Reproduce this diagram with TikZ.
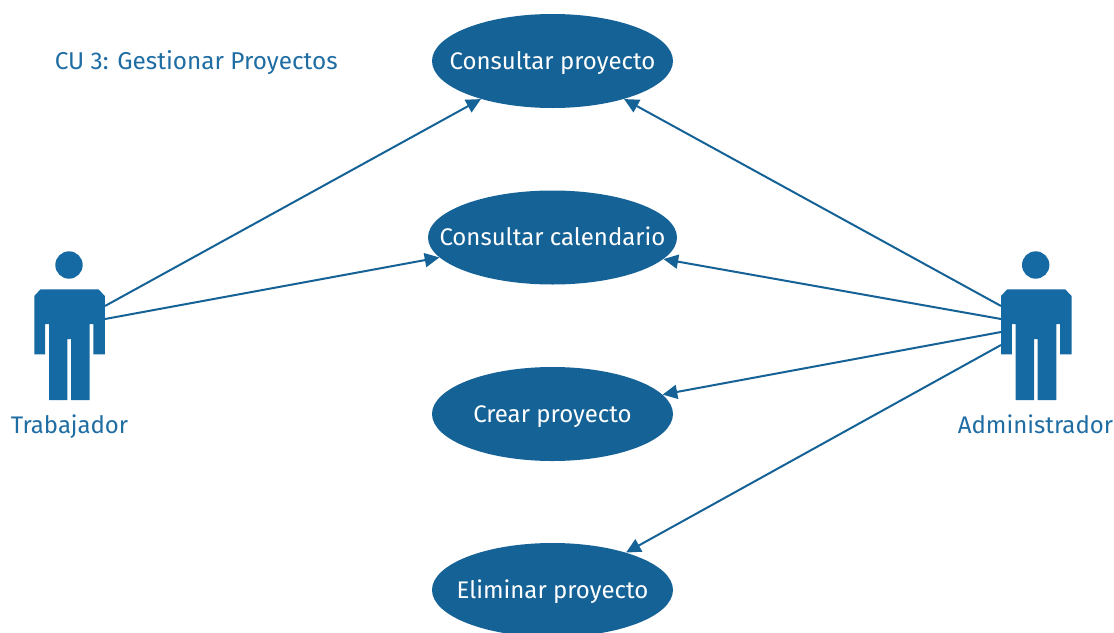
\documentclass[tikz,border=0pt]{standalone}
\usepackage{fontspec}
\setmainfont{Fira Sans}
\usetikzlibrary{shapes.geometric,arrows.meta}
\definecolor{oval}{HTML}{156297}
\definecolor{figura}{HTML}{166AA3}
\definecolor{linea}{HTML}{156297}
\definecolor{rotulo}{HTML}{1F6DA3}
\tikzset{
  caso/.style={ellipse,fill=oval,text=white,inner sep=0pt,minimum width=180.75pt,minimum height=70.5pt,font=\fontsize{18}{20}\selectfont},
  casoancho/.style={caso,minimum width=186.75pt},
  rotulotxt/.style={text=rotulo,inner sep=0pt,font=\fontsize{18}{20}\selectfont},
  enlace/.style={draw=linea,line width=1.5pt,-{Triangle[length=11pt,width=10.5pt]}}
}
\newcommand{\textocaso}[1]{\raisebox{-6pt}[0pt][0pt]{\makebox[0pt]{#1}}}
\newcommand{\figurapersona}[1]{%
  \fill[figura,shift={(#1,0)}] (69,265) circle[radius=13.7];
  \fill[figura,shift={(#1,0)}] (40.5,289.3) -- (98.5,289.3) -- (104.8,296) -- (104.8,354.3) -- (93.3,354.3) -- (93.3,324) -- (89.7,324)
    -- (89.7,400) -- (71,400) -- (71,339) -- (67.3,339) -- (67.3,400) -- (49,400) -- (49,324) -- (45.2,324) -- (45.2,354.3) -- (34.3,354.3) -- (34.3,296) -- cycle;
}
\begin{document}
\begin{tikzpicture}[x=0.75pt,y=-0.75pt]
\useasboundingbox (0,0) rectangle (1114,632);
\figurapersona{0}
\figurapersona{966.7}
\node[caso] (c1) at (552.5,61) {\textocaso{Consultar proyecto}};
\node[casoancho] (c2) at (552.5,237.5) {\textocaso{Consultar calendario}};
\node[caso] (c3) at (552.5,414) {\textocaso{Crear proyecto}};
\node[caso] (c4) at (552.5,590) {\textocaso{Eliminar proyecto}};
\node[rotulotxt,anchor=base west,font=\fontsize{18.25}{20}\selectfont] (titulo) at (54.5,69) {CU 3: Gestionar Proyectos};
\node[rotulotxt,anchor=base] (trab) at (69.5,433) {Trabajador};
\node[rotulotxt,anchor=base] (admin) at (1035.5,433) {Administrador};
\coordinate (t1) at (105,306);
\coordinate (t2) at (105,319);
\coordinate (a1) at (1001,306);
\coordinate (a2) at (1001,319);
\coordinate (a3) at (1001,332);
\coordinate (a4) at (1001,345);
\draw[enlace] (t1) -- (c1.208.5);
\draw[enlace] (t2) -- (c2.190.3);
\draw[enlace] (a1) -- (c1.332);
\draw[enlace] (a2) -- (c2.349.7);
\draw[enlace] (a3) -- (c3.10);
\draw[enlace] (a4) -- (c4.27.5);
\end{tikzpicture}
\end{document}
